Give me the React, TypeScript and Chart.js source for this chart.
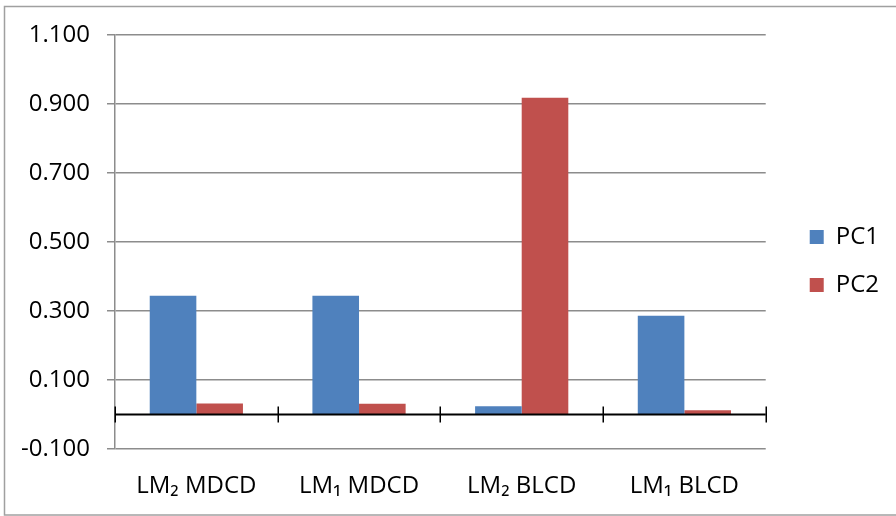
import React, { useEffect, useRef } from "react";
import { Chart, registerables } from "chart.js";

Chart.register(...registerables);

const categories = ["LM₂ MDCD", "LM₁ MDCD", "LM₂ BLCD", "LM₁ BLCD"];
const pc1Values = [0.344, 0.344, 0.024, 0.286];
const pc2Values = [0.032, 0.031, 0.918, 0.012];
const seriesNames = ["PC1", "PC2"];
const seriesColors = ["#4F81BD", "#C0504D"];

const FONT = "'Open Sans', 'Noto Sans', 'DejaVu Sans', sans-serif";
const FONT_SIZE = 24;
const W = 896;
const H = 516;

// Outer frame around the whole chart object
const framePlugin = {
  id: "frame",
  beforeDraw(chart: any) {
    const ctx = chart.ctx;
    ctx.save();
    ctx.fillStyle = "#ffffff";
    ctx.fillRect(0, 0, chart.width, chart.height);
    ctx.strokeStyle = "#a0a0a0";
    ctx.lineWidth = 1.5;
    ctx.strokeRect(4.5, 6.5, chart.width + 10, chart.height - 7.5);
    ctx.restore();
  },
};

// Horizontal axis line drawn at value 0 with cross tick marks between categories
const zeroAxisPlugin = {
  id: "zeroAxis",
  afterDatasetsDraw(chart: any) {
    const ctx = chart.ctx;
    const xs = chart.scales.x;
    const ys = chart.scales.y;
    const y0 = ys.getPixelForValue(0);
    const { left, right } = chart.chartArea;
    ctx.save();
    ctx.strokeStyle = "#000000";
    ctx.lineWidth = 2;
    ctx.beginPath();
    ctx.moveTo(left, y0);
    ctx.lineTo(right, y0);
    ctx.stroke();
    ctx.lineWidth = 1.5;
    for (let i = 0; i <= categories.length; i++) {
      const x = Math.round(xs.getPixelForValue(i - 0.5)) + 0.25;
      ctx.beginPath();
      ctx.moveTo(x, y0 - 8);
      ctx.lineTo(x, y0 + 8);
      ctx.stroke();
    }
    ctx.restore();
  },
};

export default function App() {
  const canvasRef = useRef<HTMLCanvasElement | null>(null);

  useEffect(() => {
    if (!canvasRef.current) return;
    const chart = new Chart(canvasRef.current, {
      type: "bar",
      data: {
        labels: categories,
        datasets: [
          {
            label: seriesNames[0],
            data: pc1Values,
            backgroundColor: seriesColors[0],
            borderWidth: 0,
            categoryPercentage: 0.573,
            barPercentage: 1,
          },
          {
            label: seriesNames[1],
            data: pc2Values,
            backgroundColor: seriesColors[1],
            borderWidth: 0,
            categoryPercentage: 0.573,
            barPercentage: 1,
          },
        ],
      },
      options: {
        responsive: false,
        animation: false,
        devicePixelRatio: 1,
        layout: { padding: { top: 35, right: 7, bottom: 0, left: 0 } },
        plugins: {
          tooltip: { enabled: false },
          legend: {
            position: "right",
            fullSize: false,
            title: {
              display: true,
              text: " ",
              font: { family: FONT, size: 10 },
              padding: 13,
            },
            labels: {
              boxWidth: 14,
              boxHeight: 14,
              padding: 24,
              color: "#000000",
              font: { family: FONT, size: FONT_SIZE },
            },
          },
        },
        scales: {
          x: {
            grid: { display: false },
            border: { display: false },
            ticks: {
              color: "#000000",
              font: { family: FONT, size: FONT_SIZE },
              padding: 15,
              maxRotation: 0,
            },
            afterFit(scale: any) {
              scale.height = H - 449;
            },
          },
          y: {
            min: -0.1,
            max: 1.1,
            ticks: {
              stepSize: 0.2,
              color: "#000000",
              font: { family: FONT, size: FONT_SIZE },
              padding: 17,
              callback: (v: any) => Number(v).toFixed(3),
            },
            grid: {
              color: "#8c8c8c",
              lineWidth: 1.5,
              tickLength: 8,
            },
            border: { color: "#8c8c8c", width: 1.5 },
            afterFit(scale: any) {
              scale.width = 115;
            },
          },
          spacer: {
            type: "linear",
            position: "right",
            display: true,
            grid: { display: false },
            border: { display: false },
            ticks: { display: false },
            afterFit(scale: any) {
              scale.width = 20;
            },
          },
        },
      },
      plugins: [framePlugin, zeroAxisPlugin],
    } as any);
    return () => chart.destroy();
  }, []);

  return (
    <div style={{ position: "absolute", left: 0, top: 0, width: W, height: H }}>
      <canvas ref={canvasRef} width={W} height={H} />
    </div>
  );
}
